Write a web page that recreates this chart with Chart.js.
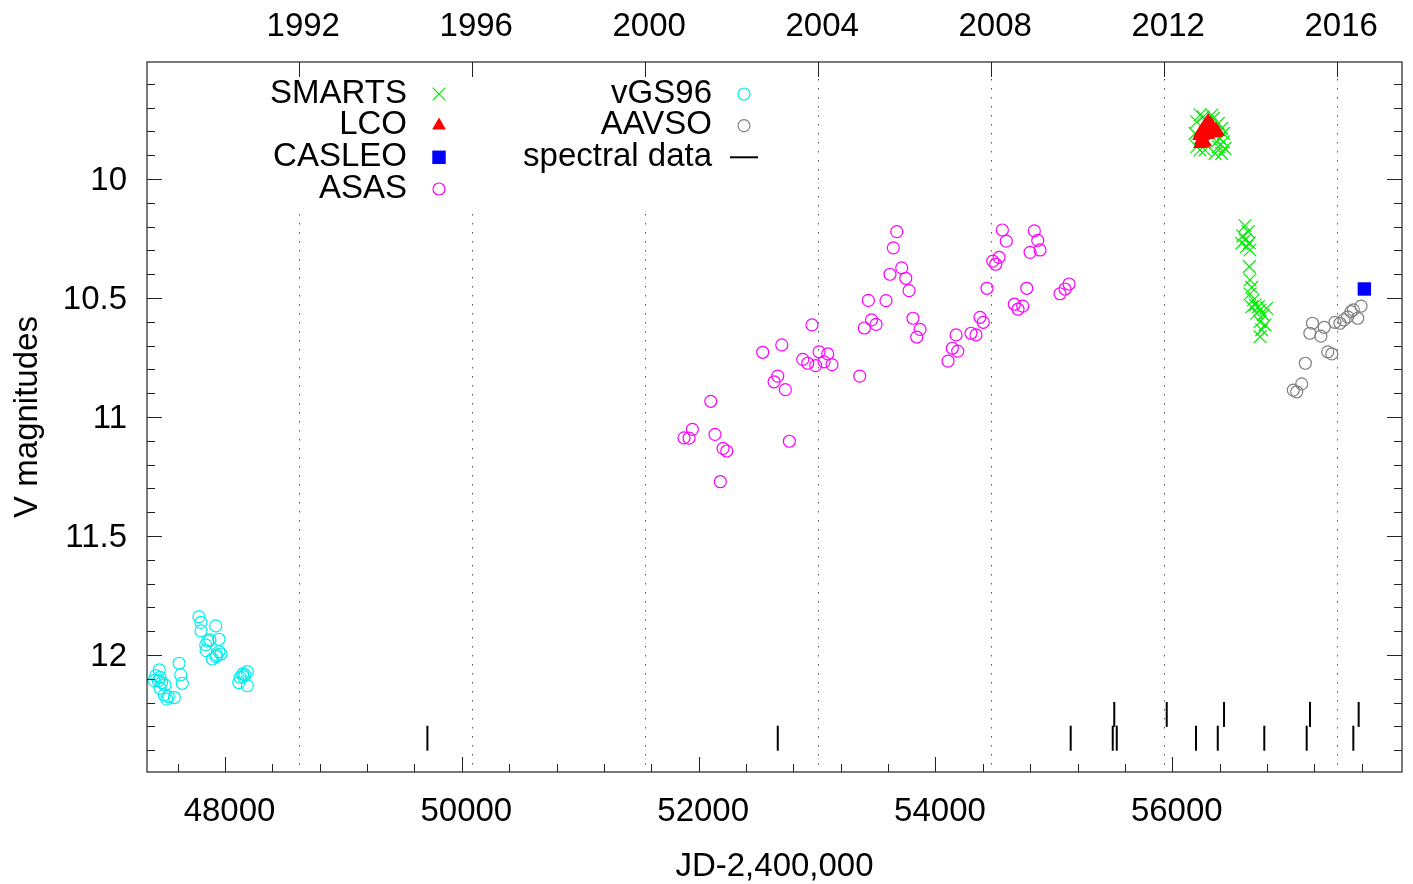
<!DOCTYPE html>
<html>
<head>
<meta charset="utf-8">
<script src="https://cdn.jsdelivr.net/npm/chart.js@4/dist/chart.umd.min.js"></script>
<style>
html,body{margin:0;padding:0;background:#fff;}
#wrap{width:1413px;height:884px;position:relative;}
</style>
</head>
<body>
<div id="wrap"><canvas id="c" width="1413" height="884"></canvas></div>
<script>
// ---------- data ----------
const xTicks = [48000, 50000, 52000, 54000, 56000];
const yTicks = [10, 10.5, 11, 11.5, 12];
const yearLabels = ['1992', '1996', '2000', '2004', '2008', '2012', '2016'];
const yearJD = [48622.5, 50083.5, 51544.5, 53005.5, 54466.5, 55927.5, 57388.5];

const smartsJD = [56234, 56262, 56333, 56347, 56206, 56389, 56417, 56192, 56431, 56403, 56375, 56431, 56389, 56445, 56417, 56234, 56276, 56206, 56361,
  56614, 56642, 56595, 56614, 56651, 56586, 56628, 56656, 56651, 56656, 56671, 56656, 56684, 56699, 56671, 56727, 56797, 56741, 56713, 56769, 56741, 56783, 56755, 56741];
const smartsV = [9.731, 9.738, 9.731, 9.745, 9.759, 9.766, 9.787, 9.808, 9.808, 9.829, 9.843, 9.843, 9.864, 9.871, 9.892, 9.878, 9.878, 9.864, 9.892,
  10.196, 10.221, 10.239, 10.256, 10.268, 10.270, 10.284, 10.298, 10.368, 10.424, 10.455, 10.483, 10.508, 10.529, 10.537, 10.537, 10.543, 10.550, 10.564, 10.571, 10.600, 10.613, 10.634, 10.663];

const lcoJD = [56302, 56285, 56327, 56268, 56310, 56344, 56251, 56293, 56336, 56369, 56234, 56276, 56319, 56361, 56386, 56226, 56260, 56302, 56243, 56260, 56234, 56276];
const lcoV = [9.756, 9.769, 9.769, 9.782, 9.782, 9.782, 9.794, 9.794, 9.794, 9.794, 9.807, 9.807, 9.807, 9.807, 9.803, 9.819, 9.819, 9.815, 9.836, 9.849, 9.853, 9.845];

const casleoJD = [57622];
const casleoV = [10.462];

const asasJD = [51876, 51919, 51947, 52102, 52138, 52183, 52206, 52237, 52541, 52637, 52668, 52702, 52732, 52766,
  52879, 52921, 52957, 52989, 53017, 53059, 53090, 53126, 53360, 53399, 53433, 53460, 53498,
  53582, 53616, 53644, 53673, 53715, 53749, 53777, 53810, 53842, 53870, 54106, 54142, 54188, 54174,
  54300, 54342, 54376, 54404, 54435, 54484, 54509, 54537, 54565, 54598,
  54666, 54697, 54737, 54771, 54799, 54835, 54864, 54883, 55052, 55094, 55128];
const asasV = [11.088, 11.089, 11.052, 10.934, 11.073, 11.272, 11.132, 11.143, 10.728, 10.852, 10.828, 10.697, 10.885, 11.102,
  10.758, 10.774, 10.613, 10.784, 10.726, 10.768, 10.735, 10.780, 10.828, 10.626, 10.510, 10.592, 10.611,
  10.511, 10.400, 10.289, 10.221, 10.373, 10.417, 10.469, 10.585, 10.664, 10.632, 10.765, 10.711, 10.723, 10.655,
  10.648, 10.655, 10.581, 10.602, 10.459, 10.345, 10.358, 10.329, 10.214, 10.261,
  10.526, 10.547, 10.534, 10.459, 10.308, 10.218, 10.258, 10.298, 10.482, 10.462, 10.441];

const vgsJD = [47445, 47415, 47451, 47400, 47437, 47465, 47493, 47451, 47487, 47521, 47508, 47572, 47612, 47626, 47639,
  47780, 47797, 47797, 47921, 47949, 47873, 47854, 47837, 47840, 47949, 47966, 47930, 47924, 47893,
  48188, 48149, 48169, 48127, 48155, 48116, 48188];
const vgsV = [12.063, 12.087, 12.094, 12.108, 12.108, 12.116, 12.126, 12.140, 12.168, 12.175, 12.186, 12.179, 12.035, 12.084, 12.119,
  11.839, 11.863, 11.899, 11.878, 11.934, 11.937, 11.941, 11.958, 11.982, 11.986, 11.996, 12.000, 12.007, 12.017,
  12.070, 12.080, 12.084, 12.094, 12.091, 12.116, 12.129];

const aavsoJD = [57051, 57022, 57093, 57124, 57313, 57347, 57184, 57162, 57255, 57283, 57374, 57416, 57450, 57481, 57509, 57529, 57566, 57594];
const aavsoV = [10.894, 10.887, 10.861, 10.774, 10.726, 10.735, 10.606, 10.648, 10.660, 10.623, 10.602, 10.606, 10.592, 10.579, 10.557, 10.550, 10.585, 10.534];

const specJD = [49709, 52668, 55142, 55497, 55531, 56200, 56384, 56777, 57135, 57529, 55510, 55953, 56437, 57163, 57574];
const specV = [12.35, 12.35, 12.35, 12.35, 12.35, 12.35, 12.35, 12.35, 12.35, 12.35, 12.25, 12.25, 12.25, 12.25, 12.25];

// ---------- setup ----------
const zip = (xs, ys) => xs.map((x, i) => ({x: x, y: ys[i]}));
const FONT_FAMILY = '"Liberation Sans", Arial, Helvetica, sans-serif';
const FS = 33;
const font = {family: FONT_FAMILY, size: FS};
const titleFont = {family: FONT_FAMILY, size: FS, lineHeight: 1};
const PAD_RIGHT = 11;

// key placement: column text right edge, symbol centre, row baselines
const legendCols = [{textRight: 407, sym: 439}, {textRight: 712, sym: 744}];
const legendRows = [102.7, 134.3, 166, 197.7];
const legendSlots = {
  'SMARTS': [0, 0], 'LCO': [0, 1], 'CASLEO': [0, 2], 'ASAS': [0, 3],
  'vGS96': [1, 0], 'AAVSO': [1, 1], 'spectral data': [1, 2]
};

function drawSymbol(ctx, ds, x, y) {
  const style = ds.pointStyle;
  const r = ds.pointRadius;
  ctx.save();
  ctx.lineWidth = ds.borderWidth;
  ctx.strokeStyle = ds.borderColor;
  ctx.fillStyle = ds.backgroundColor;
  ctx.beginPath();
  if (style === 'crossRot') {
    const o = r * Math.SQRT1_2;
    ctx.moveTo(x - o, y - o); ctx.lineTo(x + o, y + o);
    ctx.moveTo(x + o, y - o); ctx.lineTo(x - o, y + o);
    ctx.stroke();
  } else if (style === 'triangle') {
    let a = 0;
    ctx.moveTo(x + Math.sin(a) * r, y - Math.cos(a) * r);
    a += 2 * Math.PI / 3;
    ctx.lineTo(x + Math.sin(a) * r, y - Math.cos(a) * r);
    a += 2 * Math.PI / 3;
    ctx.lineTo(x + Math.sin(a) * r, y - Math.cos(a) * r);
    ctx.closePath(); ctx.fill();
  } else if (style === 'rect') {
    const s = r * Math.SQRT1_2;
    ctx.fillRect(x - s, y - s, 2 * s, 2 * s);
  } else if (style === 'circle') {
    ctx.arc(x, y, r, 0, Math.PI * 2); ctx.stroke();
  } else if (style === 'line') {
    ctx.moveTo(x - 14, y); ctx.lineTo(x + 14, y); ctx.stroke();
  }
  ctx.restore();
}

const deco = {
  id: 'deco',
  afterLayout(chart) {
    const a = chart.chartArea;
    const target = chart.width - PAD_RIGHT;
    if (Math.abs(a.right - target) > 0.01) {
      a.right = target;
      a.width = a.right - a.left;
      ['x', 'x2'].forEach(id => {
        const s = chart.scales[id];
        s.right = target;
        s.width = target - s.left;
        s.configure();
      });
    }
  },
  beforeDatasetsDraw(chart) {
    const {ctx, chartArea: a, scales} = chart;
    const x2 = scales.x2;
    ctx.save();
    ctx.strokeStyle = '#555';
    ctx.lineWidth = 1;
    ctx.setLineDash([1.5, 7.5]);
    x2.ticks.forEach(t => {
      const px = Math.round(x2.getPixelForValue(t.value)) + 0.5;
      ctx.beginPath(); ctx.moveTo(px, a.top + 8); ctx.lineTo(px, a.bottom); ctx.stroke();
    });
    ctx.setLineDash([]);
    ctx.fillStyle = '#fff';
    ctx.fillRect(250, a.top + 1, 525, 146);
    ctx.restore();
  },
  afterDatasetsDraw(chart) {
    const {ctx, chartArea: a, scales} = chart;
    const x = scales.x, x2 = scales.x2, y = scales.y;
    ctx.save();
    ctx.strokeStyle = '#222';
    ctx.lineWidth = 1.2;
    ctx.strokeRect(a.left, a.top, a.right - a.left, a.bottom - a.top);
    ctx.lineWidth = 1;
    const MAJ = 15, MIN = 8;
    ctx.beginPath();
    for (let v = Math.ceil(x.min / 400) * 400; v <= x.max; v += 400) {
      const px = Math.round(x.getPixelForValue(v)) + 0.5;
      const len = xTicks.includes(v) ? MAJ : MIN;
      ctx.moveTo(px, a.bottom); ctx.lineTo(px, a.bottom - len);
    }
    x2.ticks.forEach(t => {
      const px = Math.round(x2.getPixelForValue(t.value)) + 0.5;
      ctx.moveTo(px, a.top); ctx.lineTo(px, a.top + MAJ);
    });
    for (let k = Math.ceil(y.min * 10); k <= Math.floor(y.max * 10); k++) {
      const v = k / 10;
      const py = Math.round(y.getPixelForValue(v)) + 0.5;
      const len = yTicks.some(t => Math.abs(t - v) < 1e-9) ? MAJ : MIN;
      ctx.moveTo(a.left, py); ctx.lineTo(a.left + len, py);
      ctx.moveTo(a.right, py); ctx.lineTo(a.right - len, py);
    }
    ctx.stroke();
    ctx.font = FS + 'px ' + FONT_FAMILY;
    ctx.textAlign = 'right';
    ctx.textBaseline = 'alphabetic';
    chart.data.datasets.forEach(ds => {
      const slot = legendSlots[ds.label];
      if (!slot) return;
      const col = legendCols[slot[0]];
      const base = legendRows[slot[1]];
      ctx.fillStyle = '#000';
      ctx.fillText(ds.label, col.textRight, base);
      drawSymbol(ctx, ds, col.sym, base - 8.7);
    });
    ctx.restore();
  }
};

const datasets = [
  {label: 'LCO', data: zip(lcoJD, lcoV), pointStyle: 'triangle', pointRadius: 8, backgroundColor: '#ff0000', borderColor: '#ff0000', borderWidth: 0, order: 1},
  {label: 'SMARTS', data: zip(smartsJD, smartsV), pointStyle: 'crossRot', pointRadius: 9, backgroundColor: 'rgba(0,0,0,0)', borderColor: '#00ee00', borderWidth: 1.2, order: 2},
  {label: 'CASLEO', data: zip(casleoJD, casleoV), pointStyle: 'rect', pointRadius: 9.5, backgroundColor: '#0000ff', borderColor: '#0000ff', borderWidth: 0, order: 0},
  {label: 'ASAS', data: zip(asasJD, asasV), pointStyle: 'circle', pointRadius: 6, backgroundColor: 'rgba(0,0,0,0)', borderColor: '#ff00ff', borderWidth: 1.2, order: 3},
  {label: 'vGS96', data: zip(vgsJD, vgsV), pointStyle: 'circle', pointRadius: 6, backgroundColor: 'rgba(0,0,0,0)', borderColor: '#00eeee', borderWidth: 1.2, order: 4},
  {label: 'AAVSO', data: zip(aavsoJD, aavsoV), pointStyle: 'circle', pointRadius: 6, backgroundColor: 'rgba(0,0,0,0)', borderColor: '#808080', borderWidth: 1.2, order: 5},
  {label: 'spectral data', data: zip(specJD, specV), pointStyle: 'line', pointRadius: 12.5, pointRotation: 90, backgroundColor: '#000', borderColor: '#000', borderWidth: 2, order: 6}
];

new Chart(document.getElementById('c'), {
  type: 'scatter',
  data: {datasets: datasets},
  options: {
    responsive: false,
    animation: false,
    events: [],
    devicePixelRatio: 1,
    layout: {padding: {left: 0, right: PAD_RIGHT, top: 0, bottom: 0}},
    plugins: {legend: {display: false}, tooltip: {enabled: false}},
    scales: {
      x: {
        type: 'linear', position: 'bottom', min: 47341, max: 57940,
        afterBuildTicks: s => { s.ticks = xTicks.map(v => ({value: v})); },
        afterFit: s => { s.height = 112; s.paddingLeft = 0; s.paddingRight = 0; },
        grid: {display: false, drawTicks: false},
        border: {display: false},
        ticks: {font: font, color: '#000', padding: 20.5, labelOffset: 4.5, maxRotation: 0, autoSkip: false, callback: v => String(v)},
        title: {display: true, text: 'JD-2,400,000', font: titleFont, color: '#000', padding: {top: 0, bottom: 1}}
      },
      x2: {
        type: 'linear', position: 'top', min: 47341, max: 57940,
        afterBuildTicks: s => { s.ticks = yearJD.map(v => ({value: v})); },
        afterFit: s => { s.height = 62; s.paddingLeft = 0; s.paddingRight = 0; },
        grid: {display: false, drawTicks: false},
        border: {display: false},
        ticks: {font: font, color: '#000', padding: 15.3, labelOffset: 4.5, maxRotation: 0, autoSkip: false, callback: (v, i) => yearLabels[i]}
      },
      y: {
        type: 'linear', position: 'left', reverse: true, min: 9.508, max: 12.492,
        afterBuildTicks: s => { s.ticks = yTicks.map(v => ({value: v})); },
        afterFit: s => { s.width = 147; s.paddingTop = 0; s.paddingBottom = 0; },
        grid: {display: false, drawTicks: false},
        border: {display: false},
        ticks: {font: font, color: '#000', padding: 20, labelOffset: 2, autoSkip: false, callback: v => String(v)},
        title: {display: true, text: 'V magnitudes', font: titleFont, color: '#000', padding: {top: 11.5, bottom: 0}}
      }
    }
  },
  plugins: [deco]
});
</script>
</body>
</html>
